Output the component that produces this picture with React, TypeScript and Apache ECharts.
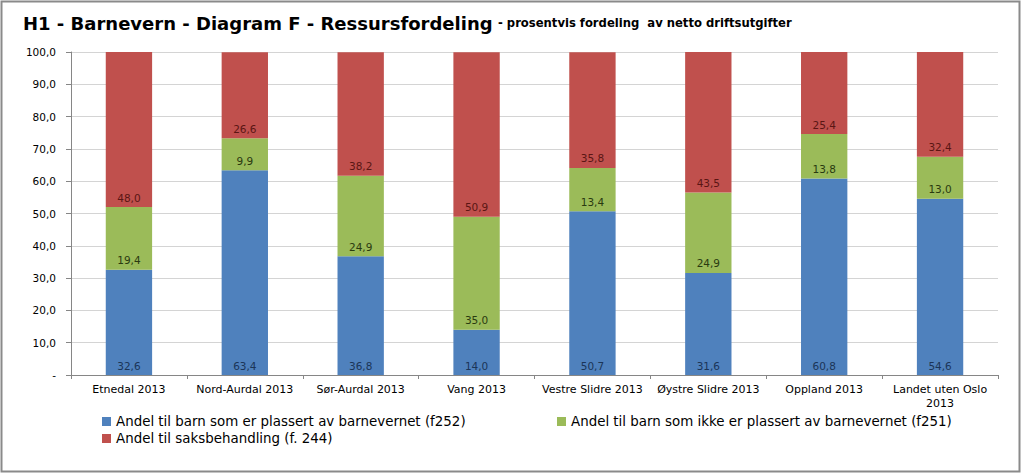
import React, { useEffect, useRef } from "react";
import * as echarts from "echarts";

const categories = [
  "Etnedal 2013",
  "Nord-Aurdal 2013",
  "Sør-Aurdal 2013",
  "Vang 2013",
  "Vestre Slidre 2013",
  "Øystre Slidre 2013",
  "Oppland 2013",
  "Landet uten Oslo\n2013",
];
const plassert = [32.6, 63.4, 36.8, 14.0, 50.7, 31.6, 60.8, 54.6];
const ikkePlassert = [19.4, 9.9, 24.9, 35.0, 13.4, 24.9, 13.8, 13.0];
const saksbehandling = [48.0, 26.6, 38.2, 50.9, 35.8, 43.5, 25.4, 32.4];
const seriesNames = [
  "Andel til barn som er plassert av barnevernet (f252)",
  "Andel til barn som ikke er plassert av barnevernet (f251)",
  "Andel til saksbehandling (f. 244)",
];
const titleText = "H1 - Barnevern - Diagram F - Ressursfordeling";
const subtitleText = "- prosentvis fordeling  av netto driftsutgifter";

const FONT = "DejaVu Sans";
const fmt = (v: number) => v.toFixed(1).replace(".", ",");

export default function App() {
  const ref = useRef<HTMLDivElement>(null);
  useEffect(() => {
    document.body.style.margin = "0";
    const chart = echarts.init(ref.current!, null, { renderer: "svg" });
    const mkSeries = (name: string, data: number[], color: string, labelColor: string) => ({
      name,
      type: "bar",
      stack: "total",
      data,
      barWidth: "40%",
      itemStyle: { color },
      label: {
        show: true,
        position: "insideBottom",
        distance: 4,
        color: labelColor,
        fontFamily: FONT,
        fontSize: 10.5,
        formatter: (p: any) => fmt(p.value),
      },
    });
    const legendBase = {
      icon: "rect",
      itemWidth: 9,
      itemHeight: 9,
      itemGap: 10,
      padding: 0,
      textStyle: { fontFamily: FONT, fontSize: 13.4, color: "#000" },
    };
    chart.setOption({
      animation: false,
      backgroundColor: "#fff",
      grid: { left: 71, right: 26, top: 52, bottom: 99 },
      graphic: [
        {
          type: "rect",
          shape: { x: 1.5, y: 1.5, width: 1018, height: 470 },
          style: { fill: "none", stroke: "#8a8a8a", lineWidth: 2 },
          silent: true,
        },
        {
          type: "text",
          left: 23,
          top: 14,
          style: {
            text: titleText,
            fontFamily: FONT,
            fontWeight: "bold",
            fontSize: 18,
            fill: "#000",
          },
        },
        {
          type: "text",
          left: 498,
          top: 17,
          style: {
            text: subtitleText,
            fontFamily: FONT,
            fontWeight: "bold",
            fontSize: 11.6,
            fill: "#000",
          },
        },
      ],
      legend: [
        { ...legendBase, data: [seriesNames[0]], left: 102, top: 415 },
        { ...legendBase, data: [seriesNames[1]], left: 557, top: 415 },
        { ...legendBase, data: [seriesNames[2]], left: 102, top: 432 },
      ],
      xAxis: {
        type: "category",
        data: categories,
        axisLine: { lineStyle: { color: "#868686" } },
        axisTick: { show: true, length: 4, lineStyle: { color: "#868686" } },
        axisLabel: {
          interval: 0,
          fontFamily: FONT,
          fontSize: 11,
          color: "#000",
          margin: 7,
          lineHeight: 14,
        },
      },
      yAxis: {
        type: "value",
        min: 0,
        max: 100,
        interval: 10,
        axisLine: { show: true, lineStyle: { color: "#868686" } },
        axisTick: { show: true, length: 5, lineStyle: { color: "#868686" } },
        splitLine: { lineStyle: { color: "#d4d4d4" } },
        axisLabel: {
          fontFamily: FONT,
          fontSize: 10.5,
          color: "#000",
          margin: 15,
          formatter: (v: number) => (v === 0 ? "-" : fmt(v)),
        },
      },
      series: [
        mkSeries(seriesNames[0], plassert, "#4F81BD", "#1B3558"),
        mkSeries(seriesNames[1], ikkePlassert, "#9BBB59", "#2A3A10"),
        mkSeries(seriesNames[2], saksbehandling, "#C0504D", "#5A1614"),
      ],
    });
    return () => chart.dispose();
  }, []);
  return <div ref={ref} style={{ width: 1024, height: 474 }} />;
}
